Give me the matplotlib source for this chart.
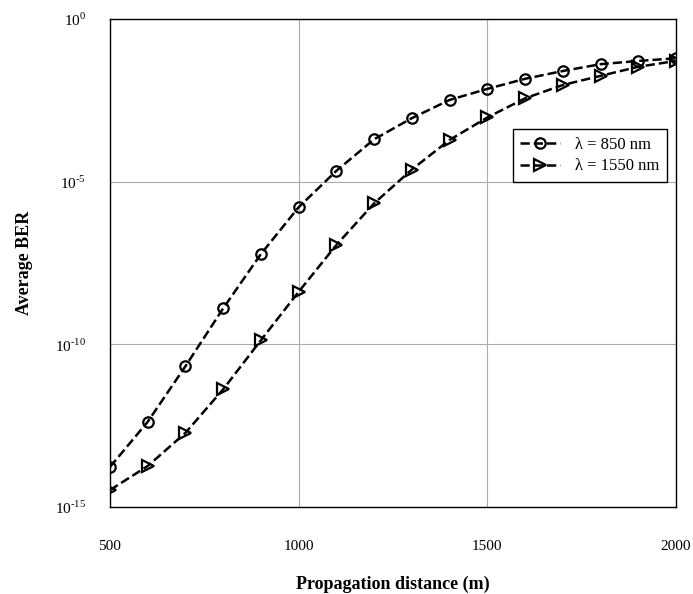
import matplotlib
matplotlib.use('Agg')
import matplotlib.pyplot as plt
import numpy as np

plt.rcParams['font.family'] = ['Liberation Serif', 'DejaVu Serif']
plt.rcParams['mathtext.fontset'] = 'custom'
plt.rcParams['mathtext.rm'] = 'Liberation Serif'

# 数据 (从图上读取的 log10 值)
distance = [500, 600, 700, 800, 900, 1000, 1100, 1200, 1300, 1400,
            1500, 1600, 1700, 1800, 1900, 2000]
log_ber_850 = [-13.77, -12.38, -10.67, -8.89, -7.22, -5.78, -4.66, -3.69,
               -3.04, -2.48, -2.14, -1.83, -1.59, -1.38, -1.28, -1.20]
log_ber_1550 = [-14.48, -13.74, -12.72, -11.38, -9.87, -8.38, -6.94, -5.66,
                -4.62, -3.71, -3.02, -2.43, -2.02, -1.74, -1.46, -1.28]
xticks = [500, 1000, 1500, 2000]
yticks = [1e-15, 1e-10, 1e-5, 1e0]
ytick_labels = ['$10^{‐15}$', '$10^{‐10}$', '$10^{‐5}$', '$10^{0}$']

ber_850 = 10 ** np.array(log_ber_850)
ber_1550 = 10 ** np.array(log_ber_1550)

fig = plt.figure(figsize=(6.93, 5.94), dpi=100)
ax = fig.add_axes([0.1587, 0.1465, 0.8168, 0.821])

ax.plot(distance, ber_850, linestyle='--', color='black', linewidth=1.8,
        marker='o', markersize=7.5, markerfacecolor='none', markeredgewidth=1.6,
        label='λ = 850 nm')
ax.plot(distance, ber_1550, linestyle='--', color='black', linewidth=1.8,
        marker='>', markersize=8.5, markerfacecolor='none', markeredgewidth=1.6,
        label='λ = 1550 nm')

ax.set_yscale('log')
ax.set_xlim(500, 2000)
ax.set_ylim(1e-15, 1e0)
ax.set_xticks(xticks)
ax.set_xticklabels([str(t) for t in xticks])
ax.set_yticks(yticks)
ax.set_yticklabels(ytick_labels)
ax.minorticks_off()
ax.tick_params(axis='x', length=0, pad=24, labelsize=11)
ax.tick_params(axis='y', length=0, pad=17, labelsize=11)
ax.grid(True, color='#aaaaaa', linewidth=0.8, linestyle='-')

for s in ax.spines.values():
    s.set_linewidth(1.0)

ax.set_xlabel('Propagation distance (m)', fontsize=13, fontweight='bold', labelpad=16)
ax.set_ylabel('Average BER', fontsize=13, fontweight='bold', labelpad=16)

leg = ax.legend(loc='upper left', bbox_to_anchor=(0.697, 0.792), fontsize=12,
                frameon=True, fancybox=False, edgecolor='black', framealpha=1,
                handlelength=2.4, handletextpad=0.9, borderpad=0.45,
                labelspacing=0.35)
leg.get_frame().set_linewidth(1.0)

fig.savefig('out.png', dpi=100)
